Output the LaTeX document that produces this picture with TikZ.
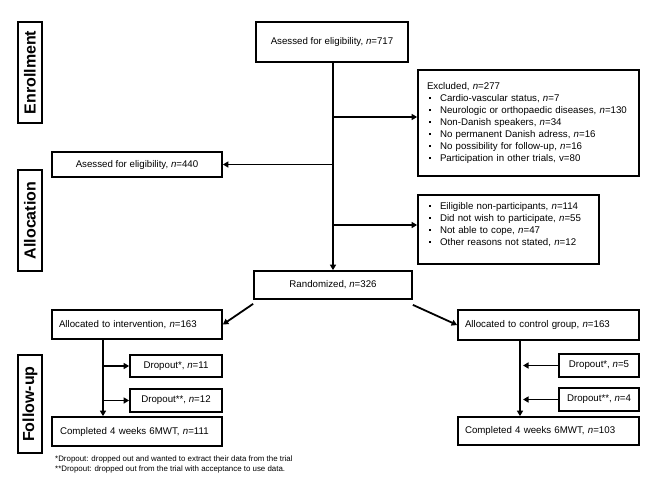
\documentclass[tikz,border=0pt]{standalone}
\usepackage{fontspec}
\setmainfont{Liberation Sans}
\usetikzlibrary{arrows.meta}
\newcommand\bul{\makebox[13pt][l]{\hspace{2pt}\raisebox{2.4pt}{\rule{1.8pt}{1.8pt}}}}
\begin{document}
\begin{tikzpicture}[x=1pt,y=-1pt,
  box/.style={draw, line width=1.7pt, inner sep=0pt, align=center, font=\fontsize{9.7}{12}\selectfont},
  lbox/.style={box, inner xsep=7pt, align=left},
  phase/.style={draw, line width=1.8pt, rotate=90, inner sep=0pt, font=\fontsize{16}{17}\selectfont\bfseries},
  arr/.style={line width=1.8pt, -{Triangle[length=5.5pt,width=6pt]}}]
\useasboundingbox (0,0) rectangle (660,480);

% phase labels
\node[phase, minimum width=101pt, minimum height=24pt] (enr) at (30,72.5) {Enrollment};
\node[phase, minimum width=101pt, minimum height=24pt] (alc) at (30,220.5) {Allocation};
\node[phase, minimum width=98pt, minimum height=24pt] (fup) at (30,404) {Follow-up};

% boxes
\node[box, minimum width=152pt, minimum height=40pt] (a717) at (332,42) {Asessed for eligibility, \textit{n}=717};
\node[box, text width=203pt, inner xsep=9pt, minimum height=106pt, align=left] (excl) at (528.5,123)
  {Excluded, \textit{n}=277\\
   \bul Cardio-vascular status, \textit{n}=7\\
   \bul Neurologic or orthopaedic diseases, \textit{n}=130\\
   \bul Non-Danish speakers, \textit{n}=34\\
   \bul No permanent Danish adress, \textit{n}=16\\
   \bul No possibility for follow-up, \textit{n}=16\\
   \bul Participation in other trials, v=80};
\node[box, text width=163pt, inner xsep=9pt, minimum height=69pt, align=left] (elig) at (508.5,229.5)
  {\bul Eiligible non-participants, \textit{n}=114\\
   \bul Did not wish to participate, \textit{n}=55\\
   \bul Not able to cope, \textit{n}=47\\
   \bul Other reasons not stated, \textit{n}=12\\
   \mbox{}};
\node[box, minimum width=170pt, minimum height=25pt] (a440) at (137,164.5) {Asessed for eligibility, \textit{n}=440};
\node[box, minimum width=158pt, minimum height=28pt] (rand) at (333,285) {Randomized, \textit{n}=326};
\node[lbox, text width=156pt, minimum height=29pt] (aint) at (137,324.5) {Allocated to intervention, \textit{n}=163};
\node[lbox, text width=167pt, minimum height=30pt] (actl) at (548.5,325) {Allocated to control group, \textit{n}=163};
\node[box, minimum width=92pt, minimum height=22pt] (d1) at (176,366) {Dropout*, \textit{n}=11};
\node[box, minimum width=92pt, minimum height=23pt] (d2) at (176,400.5) {Dropout**, \textit{n}=12};
\node[lbox, inner xsep=8pt, text width=154pt, minimum height=29pt] (cint) at (137,431.5) {Completed 4 weeks 6MWT, \textit{n}=111};
\node[box, minimum width=80pt, minimum height=23pt] (cd1) at (599,365.5) {Dropout*, \textit{n}=5};
\node[box, minimum width=80pt, minimum height=23pt] (cd2) at (599,399.5) {Dropout**, \textit{n}=4};
\node[lbox, text width=167pt, minimum height=28pt] (cctl) at (548.5,431) {Completed 4 weeks 6MWT, \textit{n}=103};

\node[anchor=north west, inner sep=0pt, align=left, font=\fontsize{7.9}{9.6}\selectfont] (fn) at (55,456)
  {*Dropout: dropped out and wanted to extract their data from the trial\\
   **Dropout: dropped out from the trial with acceptance to use data.};

% connectors
\coordinate (j1) at (333,117);
\coordinate (j2) at (333,164.5);
\coordinate (j3) at (333,225);
\draw[arr] (a717.south -| j1) -- (rand.north -| j1);
\draw[arr] (j1) -- (j1 -| excl.west);
\draw[arr] (j2) -- (a440.east);
\draw[arr] (j3) -- (j3 -| elig.west);
\draw[arr] ([yshift=-4pt]rand.south west) -- (aint.east);
\draw[arr] ([yshift=-5pt]rand.south east) -- (actl.west);

\coordinate (iv) at (103,0);
\draw[arr] (aint.south -| iv) -- (cint.north -| iv);
\draw[arr] (d1.west -| iv) -- (d1.west);
\draw[arr] (d2.west -| iv) -- (d2.west);

\coordinate (cv) at (520,0);
\draw[arr] (actl.south -| cv) -- (cctl.north -| cv);
\draw[arr, shorten >=3pt] (cd1.west) -- (cd1.west -| cv);
\draw[arr, shorten >=3pt] (cd2.west) -- (cd2.west -| cv);
\end{tikzpicture}
\end{document}
